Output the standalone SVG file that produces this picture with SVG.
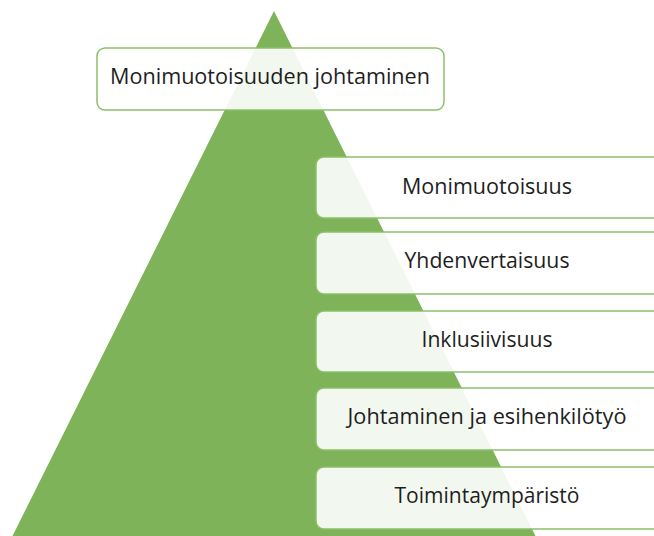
<svg xmlns="http://www.w3.org/2000/svg" width="654" height="536" viewBox="0 0 654 536">
<style>
.box{fill:#ffffff;fill-opacity:0.9;stroke:#8cc068;stroke-width:1.5}
.t{font-family:"Open Sans","Liberation Sans",sans-serif;font-size:21.5px;fill:#1e1e1e;text-anchor:middle}
</style>
<rect width="654" height="536" fill="#ffffff"/>
<polygon points="274,11 12,537 536,537" fill="#7eb35a"/>
<g id="n0"><rect class="box" x="97" y="48" width="347" height="62" rx="8"/><text class="t" x="270" y="84" textLength="320" lengthAdjust="spacingAndGlyphs">Monimuotoisuuden johtaminen</text></g>
<g id="n1"><rect class="box" x="316" y="157" width="360" height="61" rx="8"/><text class="t" x="487" y="194" textLength="170" lengthAdjust="spacingAndGlyphs">Monimuotoisuus</text></g>
<g id="n2"><rect class="box" x="316" y="232" width="360" height="62" rx="8"/><text class="t" x="487" y="268" textLength="165" lengthAdjust="spacingAndGlyphs">Yhdenvertaisuus</text></g>
<g id="n3"><rect class="box" x="316" y="311" width="360" height="61" rx="8"/><text class="t" x="487" y="347" textLength="131" lengthAdjust="spacingAndGlyphs">Inklusiivisuus</text></g>
<g id="n4"><rect class="box" x="316" y="388" width="360" height="62" rx="8"/><text class="t" x="487" y="424" textLength="279" lengthAdjust="spacingAndGlyphs">Johtaminen ja esihenkilötyö</text></g>
<g id="n5"><rect class="box" x="316" y="467" width="360" height="62" rx="8"/><text class="t" x="487" y="503" textLength="185" lengthAdjust="spacingAndGlyphs">Toimintaympäristö</text></g>
<g id="connectors"></g>
</svg>
